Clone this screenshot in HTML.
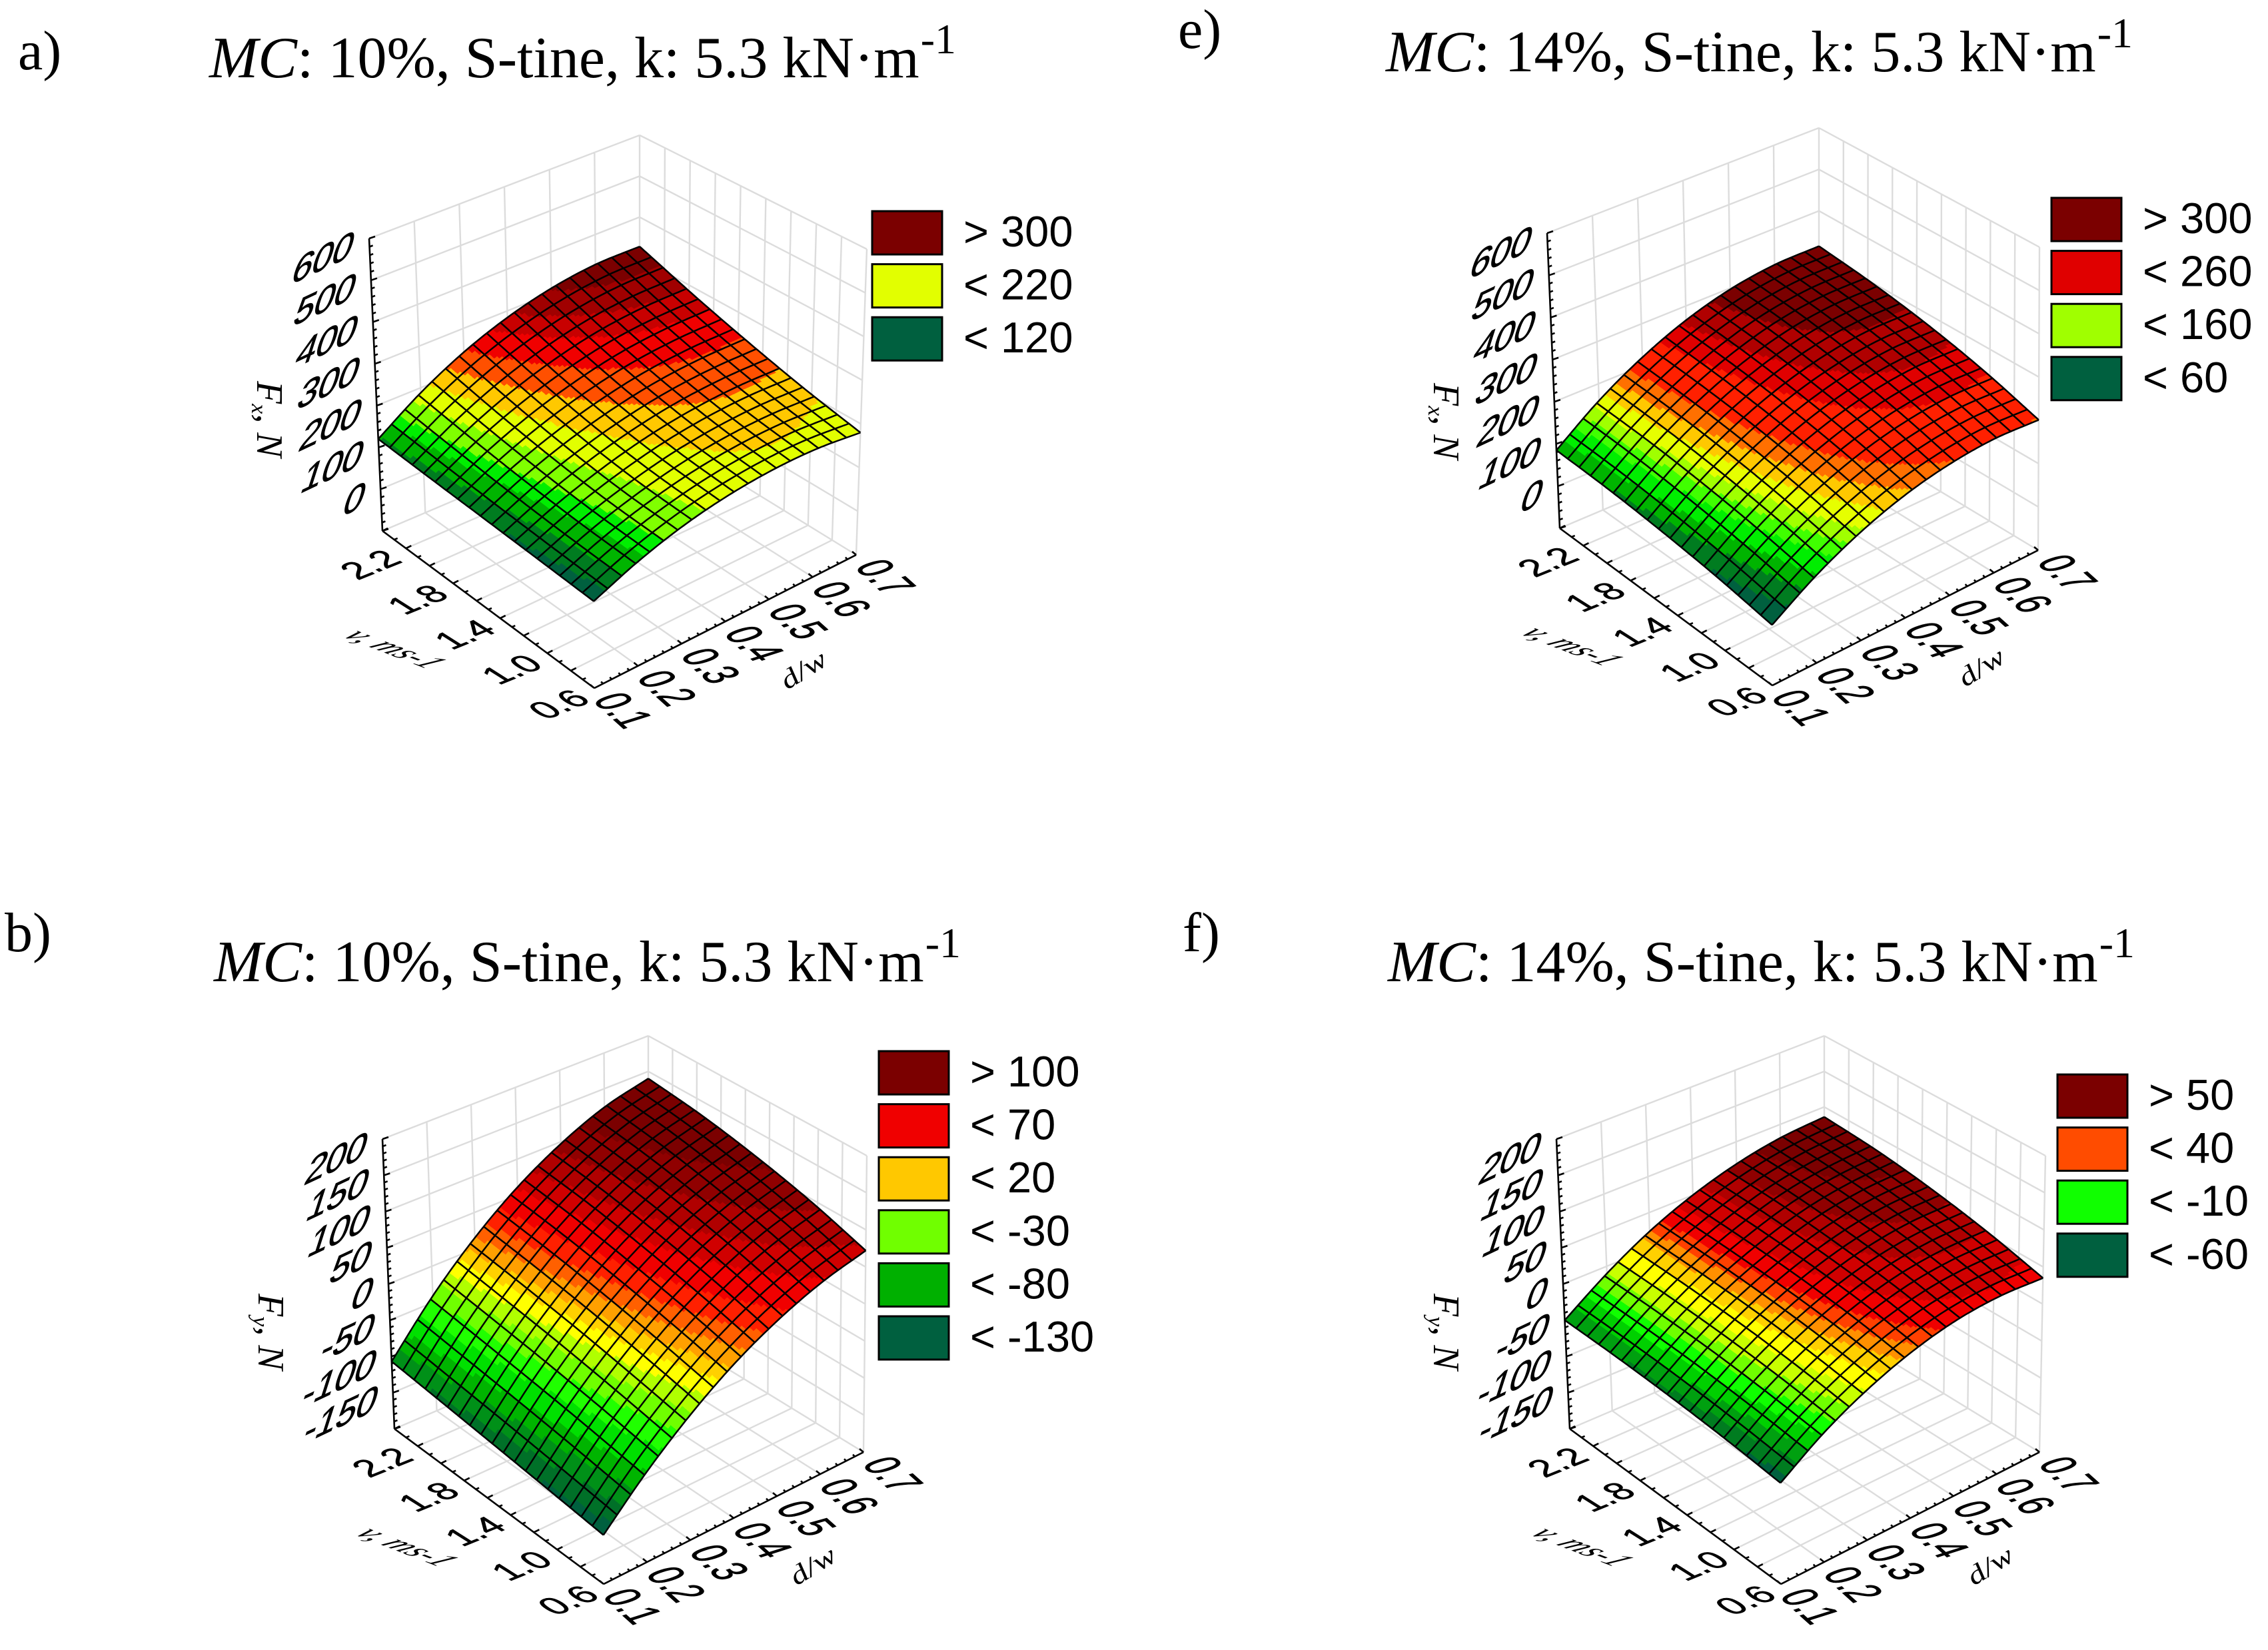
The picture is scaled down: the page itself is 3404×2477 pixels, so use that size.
<!DOCTYPE html>
<html lang="en">
<head>
<meta charset="utf-8">
<title>Response surfaces of draught and lateral force</title>
<style>
html,body{margin:0;padding:0;background:#fff;width:3404px;height:2477px;overflow:hidden}
svg{display:block}
.serif{font-family:"Liberation Serif",serif;fill:#000}
.sans{font-family:"Liberation Sans",sans-serif;fill:#000}
.tick{stroke:#000;stroke-width:.7px}
</style>
</head>
<body>
<svg id="root" xmlns="http://www.w3.org/2000/svg" width="3404" height="2477" viewBox="0 0 3404 2477">
<rect width="3404" height="2477" fill="#fff"/>
<text class="serif" x="27" y="104" font-size="84">a)</text>
<text class="serif" x="1768" y="72" font-size="84">e)</text>
<text class="serif" x="7" y="1428" font-size="84">b)</text>
<text class="serif" x="1775" y="1428" font-size="84">f)</text>
<text class="serif" x="314" y="116" font-size="88"><tspan font-style="italic">MC</tspan>: 10%, S-tine, k: 5.3 kN·m<tspan font-size="64" dx="2" dy="-36">-1</tspan></text>
<text class="serif" x="2080" y="107" font-size="88"><tspan font-style="italic">MC</tspan>: 14%, S-tine, k: 5.3 kN·m<tspan font-size="64" dx="2" dy="-36">-1</tspan></text>
<text class="serif" x="321" y="1473" font-size="88"><tspan font-style="italic">MC</tspan>: 10%, S-tine, k: 5.3 kN·m<tspan font-size="64" dx="2" dy="-36">-1</tspan></text>
<text class="serif" x="2083" y="1473" font-size="88"><tspan font-style="italic">MC</tspan>: 14%, S-tine, k: 5.3 kN·m<tspan font-size="64" dx="2" dy="-36">-1</tspan></text>
</svg>
<script>
// ---- axis data ----
const dwTicks = [0.1, 0.2, 0.3, 0.4, 0.5, 0.6, 0.7];
const dwLabels = ['0.1', '0.2', '0.3', '0.4', '0.5', '0.6', '0.7'];
const speedTicks = [0.6, 0.8, 1.0, 1.2, 1.4, 1.6, 1.8, 2.0, 2.2, 2.4];
const speedLabels = ['0.6', '', '1.0', '', '1.4', '', '1.8', '', '2.2', ''];
const draughtTicks = [-100, 0, 100, 200, 300, 400, 500, 600];
const draughtLabels = ['', '0', '100', '200', '300', '400', '500', '600'];
const lateralTicks = [-200, -150, -100, -50, 0, 50, 100, 150, 200];
const lateralLabels = ['', '-150', '-100', '-50', '0', '50', '100', '150', '200'];

// ---- surface samples: one row per speed (0.6 .. 2.4), one column per d/w tick ----
const surfaceA = [
  [95, 135, 165, 184, 193, 192, 180],
  [101, 141, 172, 195, 208, 212, 207],
  [107, 152, 188, 215, 233, 241, 241],
  [113, 168, 212, 245, 268, 279, 281],
  [120, 188, 243, 284, 312, 327, 328]
];
const surfaceE = [
  [37, 99, 147, 181, 201, 208, 201],
  [56, 122, 174, 212, 236, 246, 242],
  [70, 140, 195, 236, 263, 276, 274],
  [80, 153, 210, 254, 284, 298, 298],
  [85, 160, 220, 266, 297, 313, 315]
];
const surfaceB = [
  [-135, -80, -33, 6, 36, 58, 72],
  [-128, -69, -19, 23, 56, 80, 96],
  [-121, -59, -6, 38, 73, 98, 115],
  [-114, -50, 5, 51, 87, 113, 130],
  [-107, -41, 15, 61, 97, 124, 140]
];
const surfaceF = [
  [-66, -28, 1, 22, 35, 39, 35],
  [-59, -20, 11, 34, 49, 55, 54],
  [-54, -14, 18, 42, 59, 68, 69],
  [-51, -11, 22, 47, 66, 76, 80],
  [-50, -10, 24, 50, 69, 81, 86]
];

// ---- colour bands ----
const bandLimitsA = [106, 122, 140, 154, 176, 200, 222, 246, 270, 288, 310];
const bandColorsA = ['#00603f', '#007c20', '#00b400', '#00ee00', '#80ff00', '#e2ff00', '#ffc800', '#ff5000', '#f00000', '#c80000', '#a00000', '#7b0000'];
const bandLimitsE = [60, 82, 100, 120, 135, 150, 168, 185, 203, 240, 262, 285];
const bandColorsE = ['#00603f', '#007c20', '#00b400', '#00ee00', '#40ff00', '#a0ff00', '#e6ff00', '#ffc800', '#ff7000', '#ff2000', '#e00000', '#b00000', '#7b0000'];
const bandLimitsB = [-125, -110, -95, -80, -62, -46, -31, -18, -6, 4, 16, 28, 42, 60, 75, 92, 110];
const bandColorsB = ['#00603f', '#007028', '#009018', '#00b400', '#00e000', '#20ff00', '#70ff00', '#b0ff00', '#ffff00', '#ffd000', '#ffa000', '#ff6000', '#ff2000', '#f00000', '#d00000', '#b00000', '#900000', '#7b0000'];
const bandLimitsF = [-60, -50, -40, -30, -20, -10, 0, 10, 18, 25, 32, 42, 55, 65, 75];
const bandColorsF = ['#00603f', '#007c20', '#00a010', '#00d000', '#10ff00', '#70ff00', '#c8ff00', '#ffff00', '#ffd000', '#ff9000', '#ff4000', '#f00000', '#d00000', '#b00000', '#900000', '#7b0000'];

// ---- legends ----
const legendLabelsA = ['> 300', '< 220', '< 120'];
const legendColorsA = ['#7b0000', '#e2ff00', '#00603f'];
const legendLabelsE = ['> 300', '< 260', '< 160', '< 60'];
const legendColorsE = ['#7b0000', '#e00000', '#a0ff00', '#00603f'];
const legendLabelsB = ['> 100', '< 70', '< 20', '< -30', '< -80', '< -130'];
const legendColorsB = ['#7b0000', '#f00000', '#ffc800', '#70ff00', '#00b000', '#00603f'];
const legendLabelsF = ['> 50', '< 40', '< -10', '< -60'];
const legendColorsF = ['#7b0000', '#ff4c00', '#10ff00', '#00603f'];

// ---- panel layout: projected cube corners (front, right, left, back) ----
const panelA = {
  id: 'a', sub: 'x', surface: surfaceA, zTicks: draughtTicks, zLabels: draughtLabels,
  limits: bandLimitsA, colors: bandColorsA, legendLabels: legendLabelsA, legendColors: legendColorsA,
  legendAt: [1309, 317], zTitleAt: [386, 572],
  floor: { f: [892, 1033], r: [1285, 833], l: [574, 797], b: [960, 633] },
  top: { f: [889, 565], r: [1301, 374], l: [554, 358], b: [960, 203] }
};
const panelE = {
  id: 'e', sub: 'x', surface: surfaceE, zTicks: draughtTicks, zLabels: draughtLabels,
  limits: bandLimitsE, colors: bandColorsE, legendLabels: legendLabelsE, legendColors: legendColorsE,
  legendAt: [3079, 297], zTitleAt: [2152, 575],
  floor: { f: [2660, 1029], r: [3059, 826], l: [2341, 793], b: [2730, 628] },
  top: { f: [2658, 565], r: [3061, 371], l: [2322, 350], b: [2730, 192] }
};
const panelB = {
  id: 'b', sub: 'y', surface: surfaceB, zTicks: lateralTicks, zLabels: lateralLabels,
  limits: bandLimitsB, colors: bandColorsB, legendLabels: legendLabelsB, legendColors: legendColorsB,
  legendAt: [1319, 1578], zTitleAt: [388, 1942],
  floor: { f: [906, 2378], r: [1296, 2180], l: [592, 2145], b: [973, 1982] },
  top: { f: [904, 1925], r: [1301, 1735], l: [574, 1710], b: [973, 1555] }
};
const panelF = {
  id: 'f', sub: 'y', surface: surfaceF, zTicks: lateralTicks, zLabels: lateralLabels,
  limits: bandLimitsF, colors: bandColorsF, legendLabels: legendLabelsF, legendColors: legendColorsF,
  legendAt: [3088, 1613], zTitleAt: [2152, 1942],
  floor: { f: [2673, 2378], r: [3061, 2180], l: [2356, 2145], b: [2738, 1982] },
  top: { f: [2671, 1925], r: [3070, 1735], l: [2336, 1710], b: [2738, 1555] }
};

const NS = 'http://www.w3.org/2000/svg';
const root = document.getElementById('root');
const MESH = 19;
const SUB = 5;

function make(tag, parent, attrs) {
  const n = document.createElementNS(NS, tag);
  for (const k in attrs) n.setAttribute(k, attrs[k]);
  parent.appendChild(n);
  return n;
}
// axis functions
const uOf = d => (d - dwTicks[0]) / (dwTicks[dwTicks.length - 1] - dwTicks[0]);
const wOf = v => (v - speedTicks[0]) / (speedTicks[speedTicks.length - 1] - speedTicks[0]);
function zOf(p, z) {
  const lo = p.zTicks[0], hi = p.zTicks[p.zTicks.length - 1];
  return (z - lo) / (hi - lo);
}
function bil(c, u, w, i) {
  return (1 - u) * (1 - w) * c.f[i] + u * (1 - w) * c.r[i] + (1 - u) * w * c.l[i] + u * w * c.b[i];
}
function project(p, u, w, n) {
  return [
    (1 - n) * bil(p.floor, u, w, 0) + n * bil(p.top, u, w, 0),
    (1 - n) * bil(p.floor, u, w, 1) + n * bil(p.top, u, w, 1)
  ];
}
function spline(a, b, c, d, t) {
  return b + 0.5 * t * (c - a + t * (2 * a - 5 * b + 4 * c - d + t * (3 * (b - c) + d - a)));
}
function along(get, count, s) {
  const x = s * (count - 1);
  const i = Math.min(Math.floor(x), count - 2);
  const t = x - i;
  const b = get(i), c = get(i + 1);
  const a = i > 0 ? get(i - 1) : 2 * b - c;
  const d = i < count - 2 ? get(i + 2) : 2 * c - b;
  return spline(a, b, c, d, t);
}
function surfaceValue(grid, u, w) {
  return along(r => along(k => grid[r][k], grid[r].length, u), grid.length, w);
}
function fmt(pt) {
  return pt[0].toFixed(1) + ' ' + pt[1].toFixed(1);
}
function segment(a, b) {
  return 'M' + fmt(a) + 'L' + fmt(b);
}

function drawPanel(p) {
  const g = make('g', root, {});
  
  

  // grey grid on floor and both back walls
  let grid = '';
  speedTicks.forEach(v => {
    const w = wOf(v);
    grid += segment(project(p, 0, w, 0), project(p, 1, w, 0));
    grid += segment(project(p, 1, w, 0), project(p, 1, w, 1));
  });
  dwTicks.forEach(d => {
    const u = uOf(d);
    grid += segment(project(p, u, 0, 0), project(p, u, 1, 0));
    grid += segment(project(p, u, 1, 0), project(p, u, 1, 1));
  });
  p.zTicks.forEach(z => {
    const n = zOf(p, z);
    grid += segment(project(p, 0, 1, n), project(p, 1, 1, n));
    grid += segment(project(p, 1, 1, n), project(p, 1, 0, n));
  });
  const gridPath = make('path', g, { d: grid, fill: 'none', stroke: '#dcdcdc', 'stroke-width': 2.4 });
  
  

  // axes with ticks
  let axes = segment(project(p, 0, 1, 0), project(p, 0, 1, 1));
  axes += segment(project(p, 0, 1, 0), project(p, 0, 0, 0));
  axes += segment(project(p, 0, 0, 0), project(p, 1, 0, 0));
  const zStep = 1 / (p.zTicks.length - 1);
  for (let i = 0; i < p.zTicks.length; i++) {
    const n = zOf(p, p.zTicks[i]);
    const a = project(p, 0, 1, n);
    axes += segment(a, [a[0] + 9, a[1] - 3]);
    if (i < p.zTicks.length - 1) {
      for (let m = 1; m < 5; m++) {
        const b = project(p, 0, 1, n + zStep * m / 5);
        axes += segment(b, [b[0] + 5, b[1] - 2]);
      }
    }
  }
  const toUp = (pt, dx, dy) => [pt[0] + dx, pt[1] + dy];
  speedTicks.forEach((v, i) => {
    const a = project(p, 0, wOf(v), 0);
    axes += segment(a, toUp(a, 8, -4));
    if (i < speedTicks.length - 1) {
      const m = project(p, 0, wOf(v + 0.1), 0);
      axes += segment(m, toUp(m, 5, -2));
    }
  });
  dwTicks.forEach((d, i) => {
    const a = project(p, uOf(d), 0, 0);
    axes += segment(a, toUp(a, -6, -5));
    if (i < dwTicks.length - 1) {
      for (let m = 1; m < 5; m++) {
        const b = project(p, uOf(d + 0.02 * m), 0, 0);
        axes += segment(b, toUp(b, -3, -3));
      }
    }
  });
  const axisPath = make('path', g, { d: axes, fill: 'none', stroke: '#000', 'stroke-width': 2.6 });
  
  

  // colour bands of the surface
  const N = MESH * SUB;
  const verts = [];
  const values = [];
  for (let j = 0; j <= N; j++) {
    verts.push([]);
    values.push([]);
    for (let i = 0; i <= N; i++) {
      const u = i / N, w = j / N;
      const z = surfaceValue(p.surface, u, w);
      values[j].push(z);
      verts[j].push(fmt(project(p, u, w, zOf(p, z))));
    }
  }
  const bandPaths = p.colors.map(() => []);
  for (let j = 0; j < N; j++) {
    for (let i = 0; i < N; i++) {
      const z = (values[j][i] + values[j][i + 1] + values[j + 1][i] + values[j + 1][i + 1]) / 4;
      let band = p.limits.findIndex(l => z < l);
      if (band < 0) band = p.colors.length - 1;
      bandPaths[band].push('M' + verts[j][i] + 'L' + verts[j][i + 1] + 'L' + verts[j + 1][i + 1] + 'L' + verts[j + 1][i] + 'Z');
    }
  }
  bandPaths.forEach((d, k) => {
    if (!d.length) return;
    const band = make('path', g, { d: d.join(''), fill: p.colors[k], 'shape-rendering': 'crispEdges' });
    
    
  });

  // wireframe mesh
  let mesh = '';
  for (let a = 0; a <= MESH; a++) {
    let s1 = '', s2 = '';
    for (let b = 0; b <= N; b++) {
      const ia = a * SUB;
      s1 += (b ? 'L' : 'M') + verts[ia][b];
      s2 += (b ? 'L' : 'M') + verts[b][ia];
    }
    mesh += s1 + s2;
  }
  const meshPath = make('path', g, { d: mesh, fill: 'none', stroke: '#000', 'stroke-width': 2.5, 'stroke-linejoin': 'round' });
  
  

  // tick labels
  p.zTicks.forEach((z, i) => {
    if (!p.zLabels[i]) return;
    const a = project(p, 0, 1, zOf(p, z));
    const t = make('text', g, { class: 'sans tick', 'font-size': 46, 'text-anchor': 'end', transform: `matrix(1.17 -.55 -.42 1.32 ${(a[0] - 30).toFixed(1)} ${(a[1] + 28).toFixed(1)})` });
    
    
    t.textContent = p.zLabels[i];
  });
  speedTicks.forEach((v, i) => {
    if (!speedLabels[i]) return;
    const a = project(p, 0, wOf(v), 0);
    const t = make('text', g, { class: 'sans tick', 'font-size': 46, 'text-anchor': 'end', transform: `matrix(1.09 -.44 .98 .62 ${(a[0] - 3).toFixed(1)} ${(a[1] + 20).toFixed(1)})` });
    
    
    t.textContent = speedLabels[i];
  });
  dwTicks.forEach((d, i) => {
    const a = project(p, uOf(d), 0, 0);
    const t = make('text', g, { class: 'sans tick', 'font-size': 46, transform: `matrix(.78 .7 -1.45 .46 ${(a[0] - 4).toFixed(1)} ${(a[1] + 18).toFixed(1)})` });
    
    
    t.textContent = dwLabels[i];
  });

  // axis titles
  const zTitle = make('text', g, { class: 'serif', 'font-size': 56, 'font-style': 'italic', transform: `translate(${p.zTitleAt[0]} ${p.zTitleAt[1]}) rotate(90)` });
  
  
  zTitle.innerHTML = 'F<tspan font-size="34" dy="8">' + p.sub + '</tspan><tspan dy="-8">, N</tspan>';
  const leftFloor = project(p, 0, 1, 0);
  const frontFloor = project(p, 0, 0, 0);
  const vTitle = make('text', g, { class: 'serif', 'font-size': 40, 'font-style': 'italic', transform: `matrix(1.15 .44 -1.3 .45 ${(leftFloor[0] - 62).toFixed(1)} ${(leftFloor[1] + 158).toFixed(1)})` });
  
  
  vTitle.textContent = 'v, ms-1';
  const dTitle = make('text', g, { class: 'serif', 'font-size': 40, 'font-style': 'italic', transform: `matrix(1.09 -.69 .6 .8 ${(frontFloor[0] + 290).toFixed(1)} ${(frontFloor[1] + 3).toFixed(1)})` });
  
  
  dTitle.textContent = 'd/w';

  // legend
  p.legendLabels.forEach((label, i) => {
    const y = p.legendAt[1] + i * 79.6;
    const swatch = make('rect', g, { x: p.legendAt[0], y: y, width: 105, height: 65, fill: p.legendColors[i], stroke: '#000', 'stroke-width': 3 });
    
    
    const t = make('text', g, { class: 'sans', 'font-size': 65, x: p.legendAt[0] + 137, y: y + 53 });
    
    
    t.textContent = label;
  });
}

[panelA, panelE, panelB, panelF].forEach(drawPanel);
</script>
</body>
</html>
